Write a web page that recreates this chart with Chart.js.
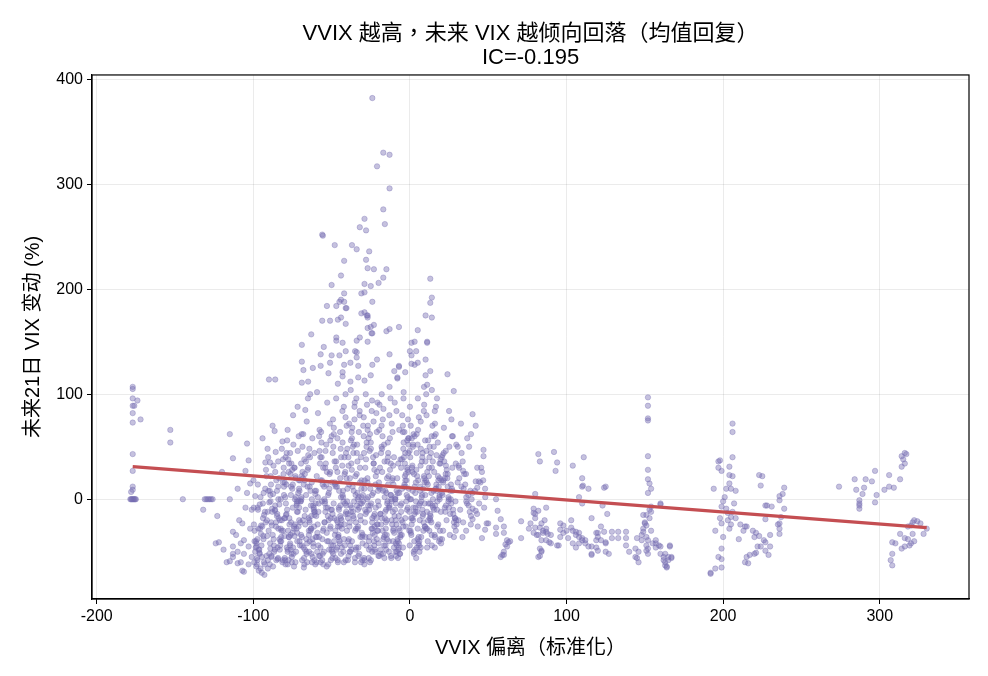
<!DOCTYPE html>
<html>
<head>
<meta charset="utf-8">
<script src="https://cdn.jsdelivr.net/npm/chart.js@4.4.1/dist/chart.umd.min.js"></script>
<style>
  html, body { margin: 0; padding: 0; background: #fff; }
  #wrap { width: 988px; height: 676px; }
</style>
</head>
<body>
<div id="wrap"><canvas id="chart" width="988" height="676"></canvas></div>
<script>
// tick positions
var xTicks = [-200, -100, 0, 100, 200, 300];
var yTicks = [0, 100, 200, 300, 400];

// regression fit end points
var fitX = [-177, 330];
var fitY = [31, -27];

// isolated points on the left edge
var leftPts = [
  [-177,107],[-177,105],[-177,96],[-174,94],[-177,89],[-176,89],[-177,82],[-177,73],[-172,76],[-177,43],
  [-177,27],[-177,12],[-177,9],[-178,7],[-178.5,0],[-177.5,0],[-176.5,0],[-176,0],[-175.5,0],[-177,0],
  [-178,0],[-175,0],[-153,66],[-153,54],[-145,0],[-131,0],[-130,0],[-129,0],[-128,0],[-127,0],
  [-126,0],[-132,-10],[-123,-16],[-115,62],[-113,39],[-115,0],[-120,26],[-110,10],[-104,53],[-103,37],
  [-105,27],[-124,-42],[-122,-41],[-119,-48],[-113,-45],[-113,-31],[-113,-55],[-115,-59],[-107,-68],[-111,-34],
  [-106,-39],[-106,-52],[-107,-23],[-104,6],[-110,-50],[-108,-60],[-103,-45],[-102,-28],[-101,-10],[-109,-20],
  [-105,-8],[-102,15],[-101,-55],[-103,-62],[-108,-42],[-117,-60],[-110,-61],[-106,-69],[-113,-52]
];

// main cloud, x in -100..50, y below ~105
var coreX = [
  -96.6,-92.9,-99.2,-94.5,-90.4,-97.7,-93.8,-98.3,-91.6,-95.4,-99.7,-92.3,-96.1,-90.9,-95.0,-98.8,-93.2,-97.1,-91.2,-95.9,-94.1,-98.0,-92.6,-96.8,-90.7,-93.5,-97.4,
  -81.8,-88.5,-84.1,-87.0,-80.6,-83.4,-89.1,-85.7,-82.5,-87.4,-81.1,-88.9,-84.7,-86.4,-80.1,-84.0,-89.5,-85.3,-82.8,-88.0,-81.4,-88.2,-84.9,-86.7,-81.0,-83.7,-89.8,-86.0,-82.2,-87.7,-82.0,-88.7,-84.4,-86.2,-80.4,-83.1,-89.3,-85.5,
  -73.7,-70.8,-77.5,-75.2,-72.1,-78.6,-74.4,-71.3,-76.9,-79.4,-73.1,-70.2,-77.8,-76.0,-72.7,-78.1,-74.8,-71.9,-76.3,-79.8,-74.0,-70.5,-77.1,-75.6,-72.4,-78.9,-74.1,-71.6,-76.6,-79.1,-73.4,-71.0,-77.3,-75.4,-73.0,-78.4,-74.6,-71.1,-76.1,-79.6,-73.9,-70.7,-78.0,-75.8,-72.2,-78.7,-75.0,-71.7,-76.5,-80.0,
  -66.6,-62.9,-69.2,-64.5,-60.4,-67.7,-63.8,-68.3,-61.6,-65.4,-69.7,-62.3,-66.1,-60.9,-65.0,-68.8,-63.2,-67.1,-61.2,-65.9,-67.0,-62.6,-69.5,-64.2,-60.7,-67.4,-63.5,-68.6,-61.9,-65.1,-70.0,-62.1,-66.4,-60.2,-64.7,-68.1,-64.0,-67.8,-61.4,-65.6,-66.8,-63.0,-69.3,-64.4,-61.0,-67.2,-63.7,-69.0,
  -51.8,-58.5,-54.1,-57.0,-50.6,-53.4,-59.1,-55.7,-52.5,-57.4,-51.1,-58.9,-54.7,-56.4,-50.1,-54.0,-59.5,-55.3,-52.8,-58.0,-51.4,-58.2,-54.9,-56.7,-51.0,-53.7,-59.8,-56.0,-52.2,-57.7,-52.0,-58.7,-54.4,-56.2,-50.4,-53.1,-59.3,-55.5,-53.0,-57.1,-50.8,-54.2,
  -43.7,-40.8,-47.5,-45.2,-42.1,-48.6,-44.4,-41.3,-46.9,-49.4,-43.1,-40.2,-47.8,-46.0,-42.7,-48.1,-44.8,-41.9,-46.3,-49.8,-44.0,-40.5,-47.1,-45.6,-42.4,-48.9,-44.1,-41.6,-46.6,-49.1,-43.4,-41.0,-47.3,-45.4,-43.0,-48.4,-44.6,-41.1,-46.1,-49.6,-43.9,-40.7,-48.0,-45.8,-42.2,-48.7,-45.0,-41.7,-46.5,-50.0,-44.5,
  -36.6,-32.9,-39.2,-34.5,-30.4,-37.7,-33.8,-38.3,-31.6,-35.4,-39.7,-32.3,-36.1,-30.9,-35.0,-38.8,-33.2,-37.1,-31.2,-35.9,-37.0,-32.6,-39.5,-34.2,-30.7,-37.4,-33.5,-38.6,-31.9,-35.1,-40.0,-32.1,-36.4,-30.2,-34.7,-38.1,-34.0,-37.8,-31.4,-35.6,-36.8,-33.0,-39.3,-34.4,-31.0,-37.2,-33.7,-39.0,-31.7,-35.2,-38.5,-33.3,
  -21.8,-28.5,-24.1,-27.0,-20.6,-23.4,-29.1,-25.7,-22.5,-27.4,-21.1,-28.9,-24.7,-26.4,-20.1,-24.0,-29.5,-25.3,-22.8,-28.0,-21.4,-28.2,-24.9,-26.7,-21.0,-23.7,-29.8,-26.0,-22.2,-27.7,-22.0,-28.7,-24.4,-26.2,-20.4,-23.1,-29.3,-25.5,-23.0,-27.1,-20.8,-24.2,-30.0,-25.1,-21.6,-27.6,-23.2,-28.4,-20.3,-26.6,-25.0,-22.6,
  -13.7,-10.8,-17.5,-15.2,-12.1,-18.6,-14.4,-11.3,-16.9,-19.4,-13.1,-10.2,-17.8,-16.0,-12.7,-18.1,-14.8,-11.9,-16.3,-19.8,-14.0,-10.5,-17.1,-15.6,-12.4,-18.9,-14.1,-11.6,-16.6,-19.1,-13.4,-11.0,-17.3,-15.4,-13.0,-18.4,-14.6,-11.1,-16.1,-19.6,-13.9,-10.7,-18.0,-15.8,-12.2,-18.7,-15.0,-11.7,-16.5,-20.0,-14.5,
  -6.6,-2.9,-9.2,-4.5,-0.4,-7.7,-3.8,-8.3,-1.6,-5.4,-9.7,-2.3,-6.1,-0.9,-5.0,-8.8,-3.2,-7.1,-1.2,-5.9,-7.0,-2.6,-9.5,-4.2,-0.7,-7.4,-3.5,-8.6,-1.9,-5.1,-10.0,-2.1,-6.4,-0.2,-4.7,-8.1,-4.0,-7.8,-1.4,-5.6,-6.8,-3.0,-9.3,-4.4,-1.0,-7.2,-3.7,-9.0,-1.7,-5.2,-8.5,
  8.2,1.5,5.9,3.0,9.4,6.6,0.9,4.3,7.5,2.6,8.9,1.1,5.3,3.6,9.9,6.0,0.5,4.7,7.2,2.0,8.6,1.8,5.1,3.3,9.0,6.3,0.2,4.0,7.8,2.3,8.0,1.3,5.6,3.8,9.6,6.9,0.7,4.5,7.0,2.9,9.2,5.8,0.0,4.9,8.4,2.4,6.8,1.6,9.7,3.4,5.0,
  16.3,19.2,12.5,14.8,17.9,11.4,15.6,18.7,13.1,10.6,16.9,19.8,12.2,14.0,17.3,11.9,15.2,18.1,13.7,10.2,16.0,19.5,12.9,14.4,17.6,11.1,15.9,18.4,13.4,10.9,16.6,19.0,12.7,14.6,17.0,11.6,15.4,18.9,13.9,10.4,16.1,
  23.4,27.1,20.8,25.5,29.6,22.3,26.2,21.7,28.4,24.6,20.3,27.7,23.9,29.1,25.0,21.2,26.8,22.9,28.8,24.1,23.0,27.4,20.5,25.8,29.3,22.6,26.5,21.4,28.1,24.9,
  38.2,31.5,35.9,33.0,39.4,36.6,30.9,34.3,37.5,32.6,38.9,31.1,35.3,33.6,39.9,36.0,30.5,34.7,
  41.5,44.2,46.8,42.9,48.1,45.5,43.3,47.4
];
var coreY = [
  -48,-72,-30,-55,8,-62,-18,-40,22,-66,-8,35,-51,48,-25,3,-60,14,-35,-5,58,-45,-12,-28,-66,-38,-58,
  -20,-55,12,-38,30,-5,-47,45,-28,5,-58,22,-14,65,-35,0,-62,18,-44,-9,55,-25,8,-50,38,-18,-3,26,-40,70,-30,14,-57,-11,4,-48,35,-22,
  -35,10,-58,28,-12,-46,52,-2,-24,40,-60,18,-30,4,-50,66,-8,-40,24,-18,-64,8,34,-52,-6,14,-28,46,-44,-15,0,60,-36,-55,20,-10,80,-26,-48,2,30,-20,-62,12,-4,44,-32,88,-42,16,
  -10,-52,22,-30,5,-65,40,-20,-45,12,-2,58,-38,-15,30,-58,-6,18,-26,74,-48,0,-34,48,-12,-62,8,26,-42,96,-22,-55,36,-4,-18,62,-40,14,-8,-60,85,-28,2,-50,44,-16,100,-36,
  6,-44,30,-60,-18,52,-32,14,-8,-54,72,-24,0,40,-48,-12,22,-62,92,-36,10,-4,-50,64,-28,34,-16,-58,4,46,-40,82,-22,18,-10,-64,102,-30,26,-46,56,-2,
  -20,44,-56,8,-38,68,-6,26,-48,-14,84,-30,14,-60,2,36,-42,-24,58,-10,-52,20,96,-34,-2,50,-18,-44,12,76,-28,-58,30,-8,4,-40,64,100,-22,-50,40,-12,16,-36,88,-4,-26,24,-46,60,-16,
  12,-46,32,-22,-58,56,-6,20,-36,88,-14,-52,44,2,-30,72,-10,28,-60,8,-40,64,-18,96,-4,-48,36,-26,16,-56,48,80,-12,-34,4,-44,24,104,-20,-2,68,-54,40,-28,10,-8,52,-38,-16,92,-50,0,
  -8,30,-50,66,-24,6,-62,46,-14,90,-38,18,-4,58,-54,-28,78,10,-44,38,-18,100,-58,2,26,-32,70,-10,-48,50,14,-22,84,-40,-2,34,-56,62,-16,20,-30,94,4,-46,42,-12,74,-36,8,-6,54,-26,
  22,-40,60,-10,4,-52,36,-24,86,12,-6,-46,48,-18,28,70,-34,0,-56,16,40,-28,8,-44,96,-14,54,-2,-36,30,-50,20,76,-22,-8,44,-38,64,2,-54,14,-30,100,-12,34,-48,6,-20,52,-42,-4,
  -30,18,-50,64,-12,6,40,-44,28,-20,92,-2,-36,52,10,-54,34,-16,76,-6,-42,24,0,-26,58,-48,14,84,-10,38,-32,4,-52,46,-22,20,102,-40,-8,30,66,-18,2,-46,44,-28,12,-4,56,-34,8,
  -16,26,-44,60,-4,12,-34,44,2,-52,84,-24,18,-8,36,-40,70,-12,-2,52,-30,8,96,-48,22,-20,40,-56,4,62,-10,30,-36,16,-26,74,0,-46,48,-14,20,-6,88,-38,10,-50,32,-18,56,6,-28,
  10,-30,40,-8,22,-40,60,2,-20,80,14,-12,30,-44,96,-4,50,-24,6,18,-36,34,-14,70,-2,26,-46,12,44,-28,88,0,-18,36,8,56,-10,20,-34,100,-6,
  -20,30,4,-34,52,-8,14,68,-26,2,40,-14,20,-2,84,-30,10,46,-18,24,-6,60,-38,8,34,-12,76,18,-22,0,
  -12,20,-30,44,0,58,-20,10,-6,72,-24,32,14,-36,6,-2,50,24,
  8,-4,18,-14,2,30,-26,-8
];

// second, denser layer of the cloud (mostly -60..60)
var denseX = [
  -95.9,-91.3,-98.1,-93.6,-97.2,-90.7,-94.8,-99.6,-92.4,-96.5,-90.2,-98.8,-93.1,-95.4,-99.2,-91.9,-97.7,-94.3,-92.8,-97.0,-90.5,-98.4,-93.9,-95.1,-99.9,-91.6,-97.4,-94.6,-92.1,-96.2,-90.9,-99.4,-93.4,-95.7,-98.0,
  -82.7,-87.9,-84.2,-89.5,-81.0,-86.3,-83.5,-88.6,-81.4,-86.0,-87.1,-82.2,-89.8,-84.9,-80.4,-86.8,-84.0,-89.0,-81.8,-85.3,-87.6,-83.0,-89.1,-84.5,-80.7,-86.1,-83.2,-88.3,-81.1,-85.6,-87.4,-82.5,-89.3,-84.1,-80.1,
  -75.9,-71.3,-78.1,-73.6,-77.2,-70.7,-74.8,-79.6,-72.4,-76.5,-70.2,-78.8,-73.1,-75.4,-79.2,-71.9,-77.7,-74.3,-72.8,-77.0,-70.5,-78.4,-73.9,-75.1,-79.9,-71.6,-77.4,-74.6,-72.1,-76.2,-70.9,-79.4,-73.4,-75.7,-78.0,
  -62.7,-67.9,-64.2,-69.5,-61.0,-66.3,-63.5,-68.6,-61.4,-66.0,-67.1,-62.2,-69.8,-64.9,-60.4,-66.8,-64.0,-69.0,-61.8,-65.3,-67.6,-63.0,-69.1,-64.5,-60.7,-66.1,-63.2,-68.3,-61.1,-65.6,-67.4,-62.5,-69.3,-64.1,-60.1,
  -55.9,-51.3,-58.1,-53.6,-57.2,-50.7,-54.8,-59.6,-52.4,-56.5,-50.2,-58.8,-53.1,-55.4,-59.2,-51.9,-57.7,-54.3,-52.8,-57.0,-50.5,-58.4,-53.9,-55.1,-59.9,-51.6,-57.4,-54.6,-52.1,-56.2,-50.9,-59.4,-53.4,-55.7,-58.0,
  -42.7,-47.9,-44.2,-49.5,-41.0,-46.3,-43.5,-48.6,-41.4,-46.0,-47.1,-42.2,-49.8,-44.9,-40.4,-46.8,-44.0,-49.0,-41.8,-45.3,-47.6,-43.0,-49.1,-44.5,-40.7,-46.1,-43.2,-48.3,-41.1,-45.6,-47.4,-42.5,-49.3,-44.1,-40.1,
  -35.9,-31.3,-38.1,-33.6,-37.2,-30.7,-34.8,-39.6,-32.4,-36.5,-30.2,-38.8,-33.1,-35.4,-39.2,-31.9,-37.7,-34.3,-32.8,-37.0,-30.5,-38.4,-33.9,-35.1,-39.9,-31.6,-37.4,-34.6,-32.1,-36.2,-30.9,-39.4,-33.4,-35.7,-38.0,
  -22.7,-27.9,-24.2,-29.5,-21.0,-26.3,-23.5,-28.6,-21.4,-26.0,-27.1,-22.2,-29.8,-24.9,-20.4,-26.8,-24.0,-29.0,-21.8,-25.3,-27.6,-23.0,-29.1,-24.5,-20.7,-26.1,-23.2,-28.3,-21.1,-25.6,-27.4,-22.5,-29.3,-24.1,-20.1,
  -15.9,-11.3,-18.1,-13.6,-17.2,-10.7,-14.8,-19.6,-12.4,-16.5,-10.2,-18.8,-13.1,-15.4,-19.2,-11.9,-17.7,-14.3,-12.8,-17.0,-10.5,-18.4,-13.9,-15.1,-19.9,-11.6,-17.4,-14.6,-12.1,-16.2,-10.9,-19.4,-13.4,-15.7,-18.0,
  -2.7,-7.9,-4.2,-9.5,-1.0,-6.3,-3.5,-8.6,-1.4,-6.0,-7.1,-2.2,-9.8,-4.9,-0.4,-6.8,-4.0,-9.0,-1.8,-5.3,-7.6,-3.0,-9.1,-4.5,-0.7,-6.1,-3.2,-8.3,-1.1,-5.6,-7.4,-2.5,-9.3,-4.1,-0.1,
  4.1,8.7,1.9,6.4,2.8,9.3,5.2,0.4,7.6,3.5,9.8,1.2,6.9,4.6,0.8,8.1,2.3,5.7,7.2,3.0,9.5,1.6,6.1,4.9,0.1,8.4,2.6,5.4,7.9,3.8,9.1,0.6,6.6,4.3,2.0,
  17.3,12.1,15.8,10.5,19.0,13.7,16.5,11.4,18.6,14.0,12.9,17.8,10.2,15.1,19.6,13.2,16.0,11.0,18.2,14.7,12.4,17.0,10.9,15.5,19.3,13.9,16.8,11.7,18.9,14.4,12.6,17.5,10.7,15.9,19.9,
  24.1,28.7,21.9,26.4,22.8,29.3,25.2,20.4,27.6,23.5,29.8,21.2,26.9,24.6,20.8,28.1,22.3,25.7,27.2,23.0,29.5,21.6,26.1,24.9,20.1,
  37.3,32.1,35.8,30.5,39.0,33.7,36.5,31.4,38.6,34.0,32.9,37.8
];
var denseY = [
  -52,-20,-64,-35,-8,-58,-44,-24,10,-68,-30,-50,-15,2,-40,28,-56,-26,-62,-10,40,-46,-4,-33,18,-54,-38,-70,-22,-48,-12,-60,6,-28,-42,
  -40,-12,-56,8,-30,-48,20,-22,-60,-6,32,-36,-52,-16,12,-44,-28,-2,48,-58,-34,-20,4,-46,24,-10,-38,-54,16,-26,-64,0,-42,36,-18,
  -22,6,-50,30,-36,-8,14,-58,-28,44,-44,-14,22,-60,-4,-32,38,-52,2,-18,-40,56,-26,10,-56,-12,26,-46,-2,-34,18,-62,-24,34,-48,
  16,-46,-20,34,-58,4,-30,50,-10,-52,24,-38,-2,42,-62,-24,12,-44,-6,28,-56,-16,62,-34,8,-50,-28,20,-12,-42,38,-60,0,-22,-36,
  -38,24,-54,-8,40,-26,12,-60,-16,54,-44,2,-32,30,-50,-20,66,-4,-40,18,-58,-12,46,-28,8,-48,34,-22,-62,-2,26,-36,14,-52,60,
  8,-34,48,-56,-14,26,-46,62,-4,-26,36,-60,16,-40,70,-20,2,-52,40,-10,-30,54,-44,20,-6,-58,32,-18,78,-36,12,-50,44,-24,-2,
  -18,40,-50,6,64,-32,22,-58,-8,50,-42,14,-26,76,-54,30,-12,-46,2,58,-36,-22,44,-60,10,-4,34,-48,84,-16,18,-40,-28,52,-6,
  28,-44,4,60,-24,-56,40,-10,82,-36,16,-50,-2,48,-30,70,-18,-58,22,-6,54,-40,10,-28,92,-48,34,-14,64,-60,0,-34,44,-22,12,
  -34,18,50,-8,-52,32,-20,66,4,-44,40,-14,80,-28,10,-56,26,-2,58,-38,14,-24,44,-48,-6,72,-30,20,-54,36,-12,90,-40,8,-18,
  12,-38,48,-10,26,-52,64,-24,2,38,-46,18,-16,80,-30,6,54,-42,30,-4,-56,44,-20,70,10,-34,22,-50,58,-12,34,-26,0,96,-44,
  28,-22,50,-4,-40,16,66,-30,36,-12,4,58,-46,22,-18,44,-8,78,-36,12,-26,32,-50,52,0,-14,24,-42,40,-2,90,-32,8,62,-20,
  -10,22,-34,46,4,-22,62,14,-40,30,-4,54,-28,8,38,-16,72,-46,18,0,-30,42,-12,26,-38,60,10,-20,34,-6,50,-26,16,84,-42,
  12,-18,36,-4,24,-30,50,6,-10,28,-24,16,60,-2,42,-36,20,-14,8,32,-20,44,0,-8,18,
  4,-10,24,16,-16,36,-4,30,8,-22,12,50
];

// upper part of the cloud (spikes above ~105)
var upperPts = [
  [-24,382],[-17,330],[-13,328],[-21,317],[-13,296],[-17,276],[-16,262],[-29,267],[-32,259],[-28,256],
  [-56,252],[-55.6,251],[-48,242],[-37,242],[-34,238],[-26,236],[-42,227],[-28,228],[-27,220],[-23,219],
  [-15,219],[-44,213],[-17,211],[-20,206],[-50,204],[-29,205],[-25,203],[13,210],[14,192],[13,187],
  [10,175],[14,173],[5,161],[-7,164],[-13,162],[-15,160],[-29,197],[-31,196],[-42,196],[-44,190],
  [-42,188],[-45,188],[-24,188],[-53,184],[-47,184],[-41,182],[-40.5,182],[-31,177],[-29,178],[-27,175],
  [-27.5,175],[-27,173],[-56,170],[-51,170],[-46,171],[-44,173],[-41,167],[-23,166],[-27,163],[-25,164],
  [-63,157],[-24,158],[-24.5,158],[-47,154],[-47,151],[-32,154],[-34,151],[-69,147],[-55,145],[-43,149],
  [-27,150],[3,150],[11,150],[1,149],[11,149],[-41,141],[-35,141],[-34,140],[0,141],[-57,138],
  [-50,137],[-45,137],[-34,135],[-13,138],[1,137],[4,141],[-69,131],[-51,130],[-21,133],[1,129],
  [5,130],[10,133],[3,128],[-68,123],[-62,125],[-57,127],[-42,128],[-38,130],[-33,127],[-24,128],
  [-7,127],[-10,122],[-3,121],[13,122],[24,119],[10,118],[-90,114],[-86,114],[-69,111],[-65,112],
  [-52,120],[-43,121],[-43,117],[-46,110],[-38,112],[-33,116],[-29,113],[-25,118],[-8,116],[-13,107],
  [9,107],[11,109],[-8,115],[-7,126],[28,103],[14,104]
];

// right of the cloud, x 30..170
var midPts = [
  [40,81],[42,70],[39,62],[47,47],[47,41],[43,30],[46,26],[34,27],[42,17],[44,17],[43,11],[48,10],[45,16],[55,0],[36,2],
  [40,-9],[42,-11],[40,-19],[49,-23],[50,-23],[56,-11],[58,-19],[60,-26],[55,-27],[48,-29],[46,-37],[55,-33],[60,-32],[62,-39],
  [63,-41],[64,-40],[61,-43],[62,-45],[60,-50],[58,-55],[59,-53],[60,-53],[71,-37],[71,-21],
  [82,43],[83,36],[92,45],[94,35],[93,27],[80,5],[79,-13],[80,-18],[87,-8],[82,-11],[79,-9],[80,-14],[77,-23],[76,-28],
  [80,-27],[84,-23],[86,-20],[87,-28],[79,-32],[82,-34],[85,-32],[88,-33],[84,-39],[87,-39],[90,-42],[83,-47],[84,-49],
  [83,-54],[82,-55],[84,-50],[89,-41],[90,-34],[87,-31],[85,-30],[83,-27],[81,-34],[94,-44],[96,-23],[96,-29],[96,-36],
  [95,-44],[98,-25],[98,-32],[100,-30],
  [104,32],[111,40],[110,20],[110,12],[110.5,13],[114,10],[108,2],[110,-4],[125,12],[124,11],[123,-6],[126,-14],
  [103,-20],[103,-27],[104,-30],[106,-31],[106,-34],[108,-36],[110,-39],[104,-42],[101,-37],[106,-46],[112,-42],[116,-45],
  [116,-53],[116,-52],[120,-49],[120,-32],[122,-39],[125,-42],[125,-50],[127,-52],[129,-31],[129,-37],[133,-31],[133,-37],
  [138,-31],[138,-37],[138,-44],[140,-50],[116,-18],[108,-32],[110,-37],[108,-42],[112,-39],[114,-45],[119,-32],[119,-39],
  [120,-36],[119,-46],[122,-26],[124,-31],[125,-41],
  [152,97],[152,89],[152,77],[152,75],[152,41],[152,28],[152,19],[153,15],[154,10],[152,6],[151,-15],[153,-10],
  [153,-18],[150,-23],[151,-25],[149,-31],[154,-30],[145,-37],[148,-39],[151,-44],[152,-47],[152,-52],[144,-47],[145,-56],
  [146,-60],[157,-39],[157,-42],[160,-4],[160,-5],[154,-7],[154,-12],[160,-45],[163,-52],[165,-55],[164,-64],[167,-56],
  [166,-44],[162,-58],[148,-34],[149,-28],[150,-22],[149,-15],[151,-36],[152,-39],[151,-49],[155,-42],[157,-46],[159,-44],
  [160,-52],[162,-55],[163,-63],[164,-65],[165,-58],[166,-45],[167,-55],[144,-55],[146,-50],[163,-60]
];

// x 190..240
var rightPts = [
  [206,72],[206,64],[206,40],[197,36],[198,37],[197,30],[199,27],[204,31],[204,23],[206,22],[194,10],[202,10],[205,10],
  [208,8],[204,15],[201,2],[207,-4],[199,-7],[202,-9],[203,-13],[198,-18],[199,-23],[205,-17],[208,-18],[205,-24],[204,-28],
  [195,-30],[200,-36],[199,-47],[197,-55],[199,-57],[199,-65],[195,-66],[192,-70],[192,-71],[211,-24],[214,-26],[213,-30],
  [215,-26],[210,-38],[219,-30],[221,-32],[220,-36],[223,-35],[223,23],[225,22],[224,13],[227,-6],[228,-6],[231,-7],
  [227,-19],[226,-39],[227,-41],[230,-34],[230,-45],[227,-49],[229,-53],[222,-45],[221,-51],[220,-52],[215,-55],[214,-60],
  [216,-61],[217,-53],[224,-45],[236,3],[238,5],[239,11],[236,-1],[239,-9],[237,-17],[236,-23],[236,-28],[236,-33],
  [235,-24],[203,-20],[206,-12],[200,-2]
];

// x 270..335
var farPts = [
  [274,12],[284,19],[291,19],[295,17],[297,27],[285,9],[290,11],[289,5],[287,-1],[287,-4],[287,-9],[287,-6],
  [297,-3],[298,4],[303,9],[306,23],[306,12],[309,11],[313,19],[314,31],[316,34],[314,41],[316,44],[317,43],
  [315,38],[308,-41],[310,-42],[308,-52],[307,-58],[308,-63],[313,-33],[316,-37],[318,-38],[320,-42],[316,-45],
  [314,-47],[321,-33],[318,-26],[321,-22],[322,-20],[320,-25],[328,-33],[330,-28],[324,-21],[326,-23],[319,-44],[322,-40]
];

var points = [];
leftPts.concat(upperPts, midPts, rightPts, farPts).forEach(function(p) {
  points.push({x: p[0], y: p[1]});
});
function addXY(xs, ys) {
  for (var i = 0; i < Math.min(xs.length, ys.length); i++) points.push({x: xs[i], y: ys[i]});
}
addXY(coreX, coreY);
addXY(denseX, denseY);
var fitLine = fitX.map(function(v, i) { return {x: v, y: fitY[i]}; });

var FONT = '"Liberation Sans", Arial, "Noto Sans CJK TC", "Noto Sans CJK SC", sans-serif';

// closes the frame on top and right like the original axes box
var framePlugin = {
  id: 'frame',
  afterDraw: function(chart) {
    var a = chart.chartArea, ctx = chart.ctx;
    ctx.save();
    ctx.strokeStyle = '#000';
    ctx.lineWidth = 1.2;
    ctx.strokeRect(a.left, a.top, a.right - a.left, a.bottom - a.top);
    ctx.restore();
  }
};

new Chart(document.getElementById('chart'), {
  type: 'scatter',
  data: {
    datasets: [{
      type: 'line',
      label: 'fit',
      data: fitLine,
      borderColor: '#c44e52',
      borderWidth: 3.2,
      pointRadius: 0,
      fill: false,
      order: 0
    }, {
      label: 'VIX',
      data: points,
      backgroundColor: 'rgba(117,107,177,0.42)',
      borderColor: 'rgba(117,107,177,0.36)',
      borderWidth: 1,
      pointRadius: 2.7,
      order: 1
    }]
  },
  options: {
    responsive: false,
    devicePixelRatio: 1,
    animation: false,
    layout: { padding: { left: 0, right: 19, top: 0, bottom: 0 } },
    plugins: {
      legend: { display: false },
      tooltip: { enabled: false },
      title: {
        display: true,
        fullSize: false,
        text: ['VVIX 越高，未来 VIX 越倾向回落（均值回复）', 'IC=-0.195'],
        color: '#000',
        font: { family: FONT, size: 22, weight: 'normal', lineHeight: 1.09 },
        padding: { top: 22, bottom: 5 }
      }
    },
    scales: {
      x: {
        type: 'linear',
        min: -203,
        max: 357,
        afterBuildTicks: function(s) { s.ticks = xTicks.map(function(v) { return {value: v}; }); },
        afterFit: function(s) { s.height = 77; },
        grid: { color: 'rgba(0,0,0,0.08)', tickColor: '#000', tickLength: 5, drawTicks: true },
        border: { color: '#000', width: 1.2 },
        ticks: { color: '#000', font: { family: FONT, size: 16 }, padding: 3, maxRotation: 0 },
        title: {
          display: true,
          text: 'VVIX 偏离（标准化）',
          color: '#000',
          font: { family: FONT, size: 20 },
          padding: { top: 0, bottom: 16 }
        }
      },
      y: {
        type: 'linear',
        min: -95,
        max: 404,
        afterBuildTicks: function(s) { s.ticks = yTicks.map(function(v) { return {value: v}; }); },
        afterFit: function(s) { s.width = 92; },
        grid: { color: 'rgba(0,0,0,0.08)', tickColor: '#000', tickLength: 5, drawTicks: true },
        border: { color: '#000', width: 1.2 },
        ticks: { color: '#000', font: { family: FONT, size: 16 }, padding: 4 },
        title: {
          display: true,
          text: '未来21日 VIX 变动 (%)',
          color: '#000',
          font: { family: FONT, size: 20 },
          padding: { top: 21, bottom: 0 }
        }
      }
    }
  },
  plugins: [framePlugin]
});
</script>
</body>
</html>
